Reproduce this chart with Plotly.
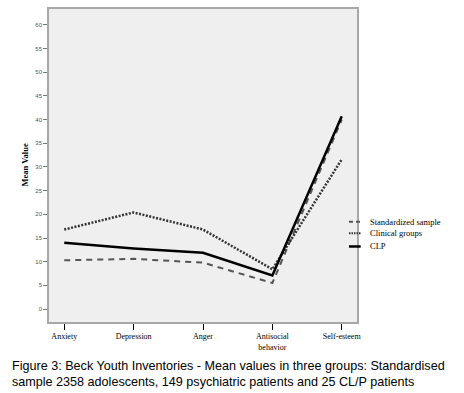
import plotly.graph_objects as go

categories = ["Anxiety", "Depression", "Anger", "Antisocial<br>behavior", "Self-esteem"]
standardized = [10.3, 10.6, 9.8, 5.5, 40.0]
clinical = [16.8, 20.4, 16.8, 8.4, 31.6]
clp = [14.0, 12.8, 11.9, 7.1, 40.7]
y_ticks = [0, 5, 10, 15, 20, 25, 30, 35, 40, 45, 50, 55, 60]
series_names = ["Standardized sample", "Clinical groups", "CLP"]

xs = list(range(len(categories)))

fig = go.Figure()
fig.add_trace(go.Scatter(x=xs, y=standardized, mode="lines", name=series_names[0],
                         line=dict(color="#555555", width=2, dash="6px,5px")))
fig.add_trace(go.Scatter(x=xs, y=clinical, mode="lines", name=series_names[1],
                         line=dict(color="#333333", width=2.5, dash="2px,1.5px")))
fig.add_trace(go.Scatter(x=xs, y=clp, mode="lines", name=series_names[2],
                         line=dict(color="#000000", width=2.5)))

fig.update_layout(
    width=464, height=393,
    margin=dict(l=49, r=107, t=7, b=71),
    paper_bgcolor="white",
    plot_bgcolor="#efefef",
    showlegend=False,
    font=dict(family="Liberation Serif", color="black"),
)
fig.update_xaxes(
    tickmode="array", tickvals=xs, ticktext=categories,
    range=[-0.22, 4.22], showgrid=False, zeroline=False,
    showline=True, linecolor="#a8a8a8", linewidth=1.5, mirror=True,
    ticks="outside", ticklen=6, tickcolor="black", tickwidth=1.2,
    tickfont=dict(family="Liberation Serif", size=8, color="black"),
)
fig.update_yaxes(
    tickmode="array", tickvals=y_ticks, ticktext=[str(v) for v in y_ticks],
    range=[-2.73, 63.36], showgrid=False, zeroline=False,
    showline=True, linecolor="#a8a8a8", linewidth=1.5, mirror=True,
    ticks="outside", ticklen=4, tickcolor="#777777", tickwidth=1,
    tickfont=dict(family="Liberation Sans", size=6, color="#555555"),
)

# axis title
fig.add_annotation(text="<b>Mean Value</b>", x=-0.078, y=0.503, xref="paper", yref="paper",
                   textangle=-90, showarrow=False, xanchor="center", yanchor="middle",
                   font=dict(family="Liberation Serif", size=8.5, color="black"))

# custom legend
leg_y = [0.3206, 0.2835, 0.2413]
leg_styles = [dict(color="#555555", width=2, dash="4px,3px"),
              dict(color="#333333", width=2, dash="1.5px,1px"),
              dict(color="#000000", width=2.5)]
for name, yy, st in zip(series_names, leg_y, leg_styles):
    fig.add_shape(type="line", xref="paper", yref="paper", x0=0.974, x1=1.012,
                  y0=yy, y1=yy, line=st)
    fig.add_annotation(text=name, x=1.0357, y=yy, xref="paper", yref="paper",
                       showarrow=False, xanchor="left", yanchor="middle",
                       font=dict(family="Liberation Serif", size=8.5, color="black"))

# caption
fig.add_annotation(
    text="Figure 3: Beck Youth Inventories - Mean values in three groups: Standardised<br>"
         "sample 2358 adolescents, 149 psychiatric patients and 25 CL/P patients",
    x=-0.128, y=-0.112, xref="paper", yref="paper", showarrow=False,
    xanchor="left", yanchor="top", align="left",
    font=dict(family="Liberation Sans", size=12.6, color="black"))

fig.write_html("out.html", config={"displayModeBar": False},
               post_script="document.body.style.margin='0';document.body.style.overflow='hidden';")
